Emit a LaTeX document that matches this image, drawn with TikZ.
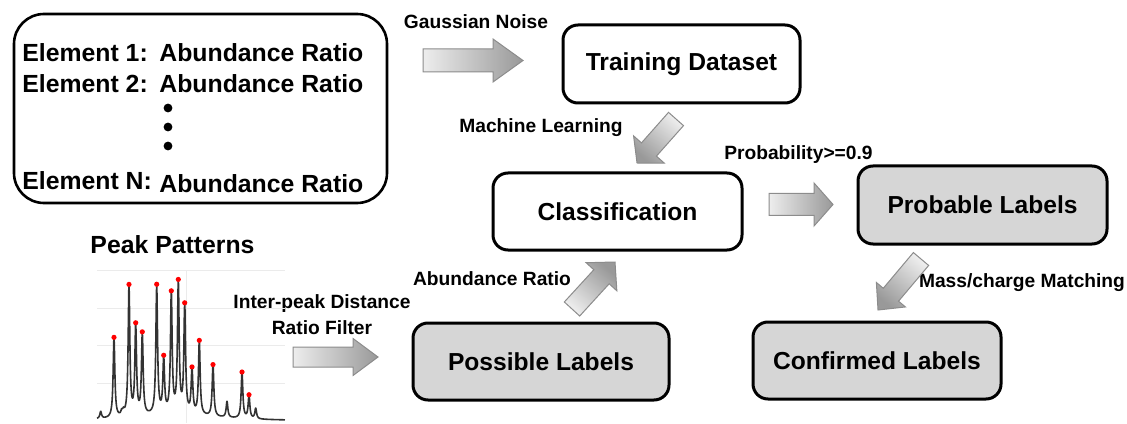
\documentclass[tikz,border=0pt]{standalone}
\usepackage{fontspec}
\setmainfont{Liberation Sans}
\usepackage{tikz}
\usetikzlibrary{calc}

\tikzset{
	box/.style={draw, line width=1.5pt, rounded corners=7.5pt, minimum height=39pt, font=\bfseries\fontsize{12.3}{14}\selectfont},
	gbox/.style={box, fill=black!16},
	lbl/.style={font=\bfseries\fontsize{9.6}{13}\selectfont, align=center},
	row/.style={anchor=base west, inner sep=0pt, font=\bfseries\fontsize{12.4}{14}\selectfont},
	blockarr/.style={draw=black!45, line width=0.5pt, line join=miter, left color=black!7, right color=black!40},
}

% #1 tail, #2 tip, #3 half shaft, #4 half head, #5 head length, #6 shading angle
\newcommand{\blockarrow}[6]{%
	\coordinate (ba-q) at ($(#2)!#5!(#1)$);
	\draw[blockarr, shading angle=#6] ($(#1)!#3!90:(#2)$) -- ($(ba-q)!#3!90:(#2)$) -- ($(ba-q)!#4!90:(#2)$) -- (#2)
		-- ($(ba-q)!#4!-90:(#2)$) -- ($(ba-q)!#3!-90:(#2)$) -- ($(#1)!#3!-90:(#2)$) -- cycle;
}

\begin{document}
\begin{tikzpicture}[x=0.5pt, y=0.5pt,
		declare function={spec(\t)=2+150/(25+(\t-17.5)^2)
			+0.07/(0.01+(\t-10.07)^2)+0.80/(0.01+(\t-11.40)^2)+0.04/(0.01+(\t-12.17)^2)+0.04/(0.01+(\t-12.35)^2)
			+1.30/(0.01+(\t-12.90)^2)+0.89/(0.01+(\t-13.57)^2)+0.81/(0.01+(\t-14.23)^2)+1.285/(0.01+(\t-15.67)^2)
			+0.54/(0.01+(\t-16.37)^2)+1.19/(0.01+(\t-17.13)^2)+1.295/(0.01+(\t-17.83)^2)+1.07/(0.01+(\t-18.47)^2)
			+0.44/(0.01+(\t-19.20)^2)+0.735/(0.01+(\t-19.93)^2)+0.515/(0.01+(\t-21.30)^2)+0.16/(0.01+(\t-22.70)^2)
			+0.46/(0.01+(\t-24.20)^2)+0.23/(0.01+(\t-24.90)^2)+0.105/(0.01+(\t-25.57)^2);}]
	\useasboundingbox (0,0) rectangle (1127,423);

	% element list
	\node[draw, line width=1.3pt, rounded corners=15pt, minimum width=186.5pt, minimum height=94.5pt] (elem) at (200.5,314.5) {};
	\node[row] (e1) at (22,361) {Element 1:};
	\node[row] (e1r) at (159,361) {Abundance Ratio};
	\node[row] (e2) at (22,330) {Element 2:};
	\node[row] (e2r) at (159,330) {Abundance Ratio};
	\node[row] (eN) at (22,233) {Element N:};
	\node[row] (eNr) at (159,230) {Abundance Ratio};
	\foreach \yy in {315,296,277}
		\fill (168,\yy) circle (2.2pt);

	% boxes
	\node[box, minimum width=118.5pt] (train) at (681.5,359) {Training Dataset};
	\node[box, minimum width=124.5pt, minimum height=38.5pt] (class) at (617.5,211.5) {Classification};
	\node[gbox, minimum width=124.5pt] (prob) at (982.5,218) {Probable Labels};
	\node[gbox, minimum width=124pt, minimum height=38.5pt] (conf) at (877,62.5) {Confirmed Labels};
	\node[gbox, minimum width=128pt, minimum height=38.5pt] (poss) at (541,61.5) {Possible Labels};

	% labels
	\node[lbl] (gauss) at (476,401) {Gaussian Noise};
	\node[lbl] (ml) at (541,295) {Machine Learning};
	\node[lbl, anchor=east, inner sep=0pt] (probab) at (873,268) {Probability>=0.9};
	\node[lbl] (abund) at (492,144) {Abundance Ratio};
	\node[lbl] (filter) at (322,108) {Inter-peak Distance\\Ratio Filter};
	\node[lbl] (mass) at (1022,140) {Mass/charge Matching};
	\node[font=\bfseries\fontsize{12.4}{14}\selectfont] (peaks) at (172.5,178) {Peak Patterns};

	% block arrows
	\coordinate (gauss-t) at (423,362.5);
	\coordinate (gauss-h) at (523,362.5);
	\coordinate (ml-t) at (676,304);
	\coordinate (ml-h) at (637,260);
	\coordinate (abund-t) at (572,114);
	\coordinate (abund-h) at (615,161);
	\coordinate (probab-t) at (769,218.5);
	\coordinate (probab-h) at (833,218.5);
	\coordinate (mass-t) at (921,164);
	\coordinate (mass-h) at (878,113);
	\coordinate (filter-t) at (293,66);
	\coordinate (filter-h) at (378,66);
	\blockarrow{gauss-t}{gauss-h}{5.75pt}{10.75pt}{15pt}{90}
	\blockarrow{ml-t}{ml-h}{5pt}{10.25pt}{9pt}{318}
	\blockarrow{abund-t}{abund-h}{5.2pt}{10.4pt}{10pt}{137}
	\blockarrow{probab-t}{probab-h}{5.5pt}{10.75pt}{9.5pt}{90}
	\blockarrow{mass-t}{mass-h}{5pt}{9.5pt}{10pt}{320}
	\blockarrow{filter-t}{filter-h}{5pt}{9.25pt}{12.5pt}{90}

	% spectrum
	\foreach \yy in {40,78,115,153}
		\draw[black!8, line width=0.5pt] (97,\yy) -- (285,\yy);
	\draw[black!8, line width=0.5pt] (186,0) -- (186,153);
	\draw[black!80, line width=0.8pt, line join=round] plot[domain=9.7:28.5, samples=640] ({10*\x},{spec(\x)});
	\foreach \p in {11.40,12.90,13.57,14.23,15.67,16.37,17.13,17.83,18.47,19.20,19.93,21.30,24.20,24.90}
		\fill[red] ({10*\p},{spec(\p)}) circle (1.3pt);
\end{tikzpicture}
\end{document}
